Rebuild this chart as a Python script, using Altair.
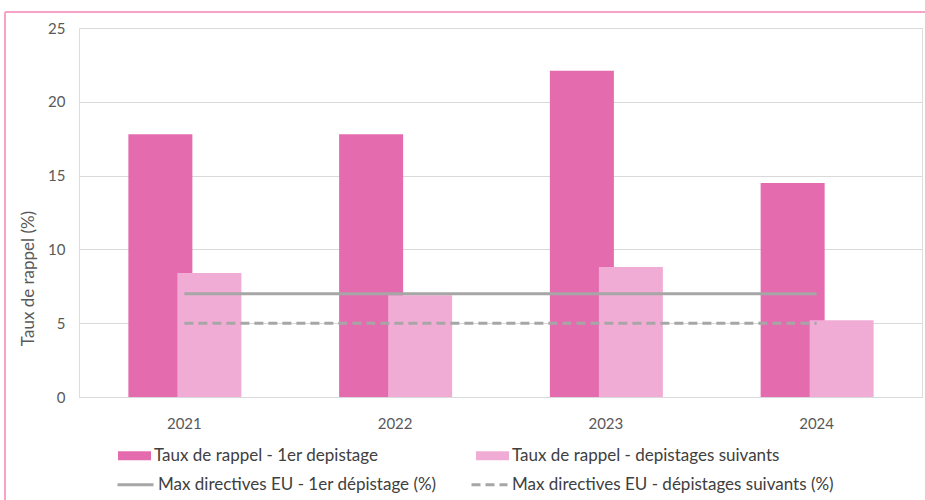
import altair as alt
import pandas as pd

years = ["2021", "2022", "2023", "2024"]
first_rates = [17.8, 17.8, 22.1, 14.5]
next_rates = [8.4, 6.9, 8.8, 5.2]
eu_first = [7, 7, 7, 7]
eu_next = [5, 5, 5, 5]

s_first = "Taux de rappel - 1er depistage"
s_next = "Taux de rappel - depistages suivants"
l_first = "Max directives EU - 1er dépistage (%)"
l_next = "Max directives EU - dépistages suivants (%)"

bars = pd.DataFrame({
    "annee": years * 2,
    "valeur": first_rates + next_rates,
    "serie": [s_first] * 4 + [s_next] * 4,
})
lines = pd.DataFrame({
    "annee": years * 2,
    "valeur": eu_first + eu_next,
    "serie": [l_first] * 4 + [l_next] * 4,
})

FONT = "Lato"
x_enc = alt.X("annee:N", scale=alt.Scale(domain=years, paddingInner=0, paddingOuter=0),
              axis=alt.Axis(title=None, labelAngle=0, ticks=False, domain=True, domainColor="#d9d9d9",
                            labelFontSize=15, labelColor="#595959", labelPadding=19, labelFont=FONT))
y_enc = alt.Y("valeur:Q", scale=alt.Scale(domain=[0, 25]),
              axis=alt.Axis(title="Taux de rappel (%)", values=[0, 5, 10, 15, 20, 25], ticks=False, domain=False,
                            gridColor="#d9d9d9", labelFontSize=15, labelColor="#595959", labelPadding=14,
                            labelFont=FONT, titleFont=FONT, titleFontSize=17, titleFontWeight="normal",
                            titleColor="#595959", titleX=-42, titleY=250, titleAngle=-90))

color_scale = alt.Scale(domain=[s_first, s_next], range=["#e36bae", "#f1acd5"])
bar_legend = alt.Legend(title=None, orient="none", legendX=39, legendY=411, direction="horizontal",
                        columns=2, columnPadding=97, symbolType="M-1,-0.28H1V0.28H-1Z", symbolSize=1089,
                        symbolStrokeWidth=0, labelFont=FONT, labelFontSize=17, labelColor="#404040",
                        labelLimit=400, labelOffset=3)

base_bar = alt.Chart(bars)
bar1 = base_bar.transform_filter(alt.datum.serie == s_first).mark_bar(width=64, xOffset=-24).encode(
    x=x_enc, y=y_enc,
    fill=alt.Fill("serie:N", scale=color_scale, legend=bar_legend))
bar2 = base_bar.transform_filter(alt.datum.serie == s_next).mark_bar(width=64, xOffset=25).encode(
    x=x_enc, y=y_enc,
    fill=alt.Fill("serie:N", scale=color_scale, legend=bar_legend))

line_legend = alt.Legend(title=None, orient="none", legendX=37, legendY=437, direction="horizontal",
                         columns=2, columnPadding=28, symbolType="stroke", symbolSize=1296,
                         symbolStrokeWidth=3, symbolStrokeColor="#a6a6a6", labelFont=FONT,
                         labelFontSize=17, labelColor="#404040", labelLimit=400, labelOffset=3)
line = alt.Chart(lines).mark_line(color="#a6a6a6", strokeWidth=3).encode(
    x=x_enc, y=y_enc,
    strokeDash=alt.StrokeDash("serie:N", scale=alt.Scale(domain=[l_first, l_next], range=[[1, 0], [9, 5]]),
                              legend=line_legend))

frame_left = alt.Chart(bars).mark_rule(color="#f6a3c7", strokeWidth=2).encode(
    x=alt.value(-74), y=alt.value(-16), y2=alt.value(480))
frame_top = alt.Chart(bars).mark_rule(color="#f6a3c7", strokeWidth=2).encode(
    x=alt.value(-74), x2=alt.value(850), y=alt.value(-16))

chart = alt.layer(bar1, bar2, line, frame_left, frame_top).resolve_scale(fill="shared").properties(
    width=843, height=369,
    autosize=alt.AutoSizeParams(type="none"),
    padding={"left": 79, "top": 28, "right": 3, "bottom": 103},
).configure_view(stroke="#d9d9d9", strokeWidth=1).configure(background="white")

chart.save("out.html", embed_options={"renderer": "svg", "actions": False})
